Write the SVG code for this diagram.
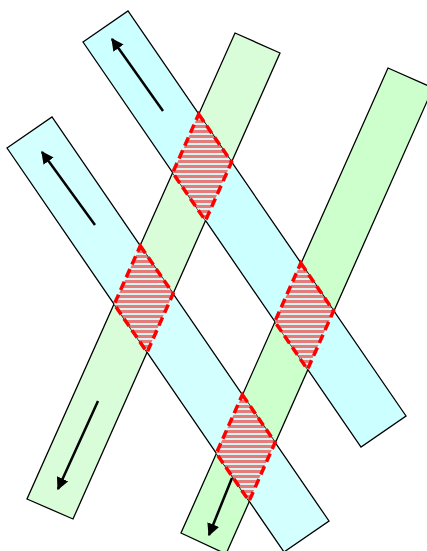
<svg xmlns="http://www.w3.org/2000/svg" width="427" height="551" viewBox="0 0 427 551">
<defs>
<style>
.strip{stroke:#000;stroke-width:1.3;stroke-linejoin:miter}
.b1{fill:#ccffff}
.b2{fill:#d4ffff}
.g1{fill:#d8fdd8}
.g2{fill:#ccffcc}
.arrow{stroke:#000;stroke-width:2.5;fill:none;marker-end:url(#ah)}
.zone{fill:url(#hatch);stroke:#ff0000;stroke-width:3.5;stroke-dasharray:9 5}
</style>
<pattern id="hatch" patternUnits="userSpaceOnUse" width="10" height="5">
<rect x="0" y="0" width="10" height="5" fill="#d9f4f0"/>
<rect x="0" y="0" width="10" height="3" fill="#e47c7c"/>
</pattern>
<marker id="ah" viewBox="0 0 10 10" refX="9" refY="5" markerWidth="5" markerHeight="5" orient="auto" markerUnits="strokeWidth">
<path d="M0,0 L10,5 L0,10 z" fill="#000"/>
</marker>
</defs>
<g id="green1"><polygon class="strip g1" points="235,33 280,53 73,519 27,499"/></g>
<g id="green2"><polygon class="strip g2" points="388,68 433,88 226,554 181,533"/></g>
<g id="blue1"><polygon class="strip b1" points="83,42 128,11 406,416 361,447"/></g>
<g id="blue2"><polygon class="strip b2" points="7,148 52,117 329,521 284,552"/></g>
<g id="connectors">
<line class="arrow" x1="163" y1="111" x2="112" y2="39"/>
<line class="arrow" x1="95" y1="225" x2="42" y2="152"/>
<line class="arrow" x1="98" y1="401" x2="58" y2="489"/>
<line class="arrow" x1="232" y1="478" x2="209" y2="535"/>
</g>
<g id="zoneA"><polygon class="zone" points="198.7,114.2 231.6,162.0 205.5,220.7 172.7,172.8"/></g>
<g id="zoneB"><polygon class="zone" points="140.3,245.8 173.1,293.6 147.1,352.3 114.2,304.4"/></g>
<g id="zoneC"><polygon class="zone" points="300.8,263.1 333.6,310.9 307.5,369.5 274.8,321.7"/></g>
<g id="zoneD"><polygon class="zone" points="242.4,394.7 275.1,442.4 249.1,501.1 216.3,453.3"/></g>
</svg>
